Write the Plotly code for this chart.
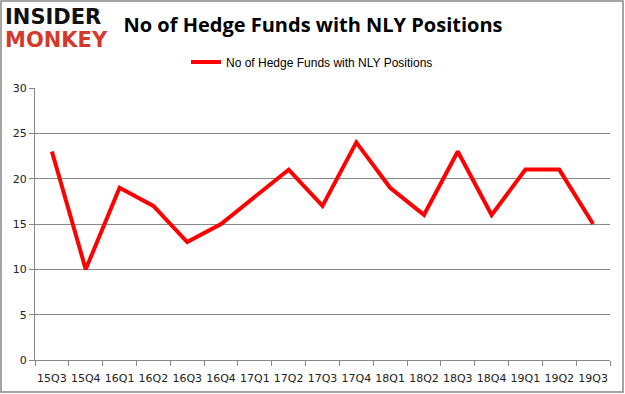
import plotly.graph_objects as go

quarters = ["15Q3", "15Q4", "16Q1", "16Q2", "16Q3", "16Q4", "17Q1", "17Q2", "17Q3",
            "17Q4", "18Q1", "18Q2", "18Q3", "18Q4", "19Q1", "19Q2", "19Q3"]
funds = [23, 10, 19, 17, 13, 15, 18, 21, 17, 24, 19, 16, 23, 16, 21, 21, 15]
y_ticks = [0, 5, 10, 15, 20, 25, 30]
series_name = "No of Hedge Funds with NLY Positions"
title_text = "No of Hedge Funds with NLY Positions"

W, H = 625, 394
ML, MR, MT, MB = 35, 15, 88, 34
PW, PH = W - ML - MR, H - MT - MB


def px_x(p):
    return (p - ML) / PW


def px_y(p):
    return (H - MB - p) / PH


fig = go.Figure()
fig.add_trace(go.Scatter(
    x=quarters, y=funds, mode="lines", name=series_name,
    line=dict(color="#ff0000", width=4),
))

fig.update_layout(
    width=W, height=H,
    margin=dict(l=ML, r=MR, t=MT, b=MB, autoexpand=False),
    paper_bgcolor="white", plot_bgcolor="white",
    showlegend=True,
    legend=dict(orientation="h", x=px_x(186), xanchor="left", y=px_y(62), yanchor="middle",
                font=dict(family="Liberation Sans", size=12, color="#000"),
                bgcolor="rgba(0,0,0,0)", itemwidth=30),
    font=dict(family="DejaVu Sans", size=11, color="#222"),
    title=dict(text="<b>" + title_text + "</b>", x=313 / W, xanchor="center",
               y=1 - 25 / H, yanchor="middle",
               font=dict(family="Open Sans", size=20, color="#000")),
    xaxis=dict(type="category", range=[-0.5, len(quarters) - 0.5],
               showgrid=False, showline=True, linecolor="#888", linewidth=1,
               ticks="outside", tickson="boundaries", ticklen=5, tickcolor="#888",
               tickangle=0, automargin=False, ticklabelstandoff=8,
               tickfont=dict(family="DejaVu Sans", size=11, color="#222"), fixedrange=True),
    yaxis=dict(range=[0, 30], tickvals=y_ticks, showgrid=True, gridcolor="#888", gridwidth=1,
               showline=True, linecolor="#888", linewidth=1, ticks="outside", ticklen=5,
               tickcolor="#888", zeroline=False, automargin=False,
               tickfont=dict(family="DejaVu Sans", size=11, color="#222"), fixedrange=True),
)

# outer border
fig.add_shape(type="rect", xref="paper", yref="paper", x0=px_x(1), x1=px_x(623),
              y0=px_y(392), y1=px_y(1), line=dict(color="#888", width=1.5),
              fillcolor="rgba(0,0,0,0)")

# logo
fig.add_annotation(text="<b>INSIDER</b>", xref="paper", yref="paper", x=px_x(3), y=px_y(17),
                   xanchor="left", yanchor="middle", showarrow=False,
                   font=dict(family="DejaVu Sans", size=21, color="#111"))
fig.add_annotation(text="<b>MONKEY</b>", xref="paper", yref="paper", x=px_x(3), y=px_y(40),
                   xanchor="left", yanchor="middle", showarrow=False,
                   font=dict(family="DejaVu Sans", size=21, color="#d33a2c"))

fig.write_html("out.html", post_script="document.body.style.margin='0';",
               config={"displayModeBar": False})
